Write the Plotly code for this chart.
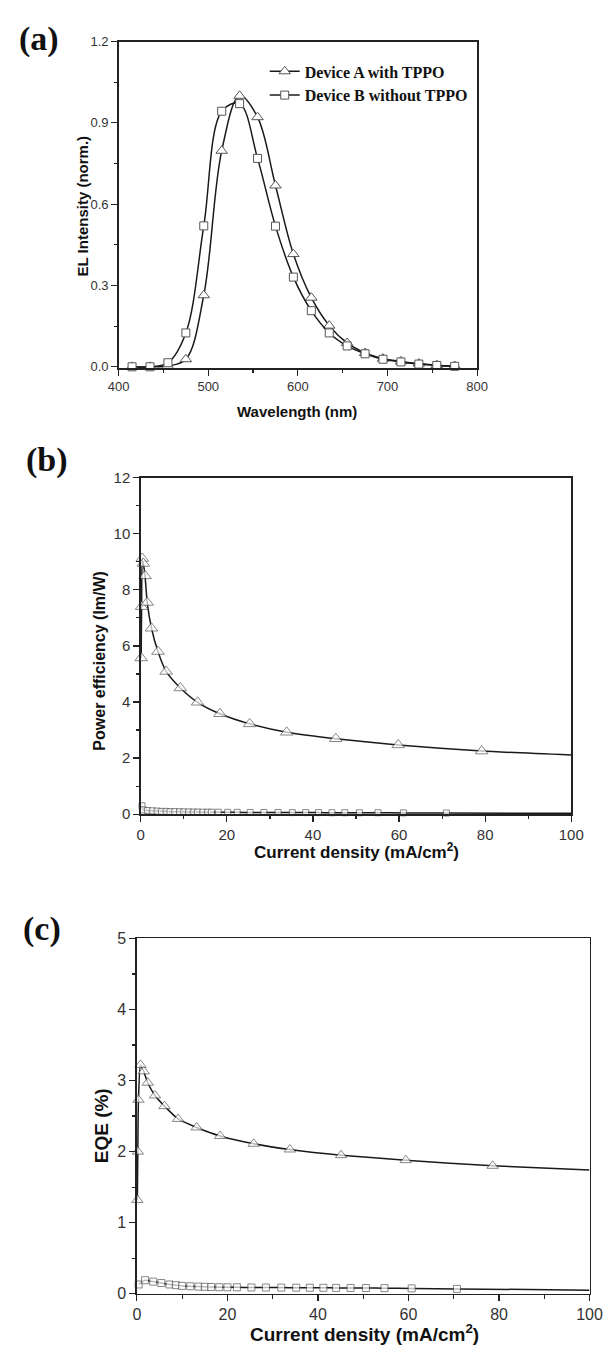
import plotly.graph_objects as go

# ---------------- data ----------------
# (a) EL spectra
wavelength = [415, 435, 455, 475, 495, 515, 535, 555, 575, 595, 615, 635, 655, 675, 695, 715, 735, 755, 775]
el_A = [0.0, 0.0, 0.003, 0.028, 0.264, 0.797, 1.0, 0.921, 0.669, 0.416, 0.255, 0.152, 0.088, 0.051, 0.030, 0.020, 0.012, 0.006, 0.003]
el_B = [0.0, 0.0, 0.015, 0.125, 0.520, 0.943, 0.971, 0.769, 0.519, 0.331, 0.207, 0.125, 0.077, 0.048, 0.028, 0.018, 0.010, 0.005, 0.002]

# (b) power efficiency vs current density
pe_x_A = [0.1, 0.2, 0.35, 0.6, 1.0, 1.5, 2.5, 4.0, 5.9, 9.2, 13.2, 18.4, 25.3, 33.9, 45.3, 59.8, 79.2, 100]
pe_A = [5.57, 7.4, 9.12, 8.94, 8.5, 7.55, 6.63, 5.8, 5.09, 4.5, 3.99, 3.58, 3.22, 2.92, 2.69, 2.47, 2.25, 2.11]
pe_x_B = [0.3, 0.6, 1.6, 2.7, 3.8, 4.8, 5.9, 6.8, 7.9, 9.0, 10.0, 11.1, 12.2, 13.2, 14.4, 15.5, 16.4,
          18.0, 20.2, 22.4, 25.4, 28.6, 31.9, 35.2, 38.3, 41.3, 44.4, 47.4, 50.8, 55.1, 61.0, 71.0, 100]
pe_B = [0.30, 0.15, 0.13, 0.12, 0.11, 0.10, 0.10, 0.09, 0.09, 0.085, 0.08, 0.08, 0.075, 0.075, 0.07, 0.07, 0.07,
        0.07, 0.065, 0.065, 0.06, 0.06, 0.06, 0.055, 0.055, 0.055, 0.05, 0.05, 0.05, 0.05, 0.045, 0.04, 0.03]

# (c) EQE vs current density
eqe_x_A = [0.1, 0.2, 0.35, 0.8, 1.5, 2.4, 4.0, 6.1, 9.1, 13.2, 18.4, 25.8, 33.8, 45.1, 59.4, 78.6, 100]
eqe_A = [1.32, 2.0, 2.73, 3.22, 3.13, 2.97, 2.79, 2.64, 2.46, 2.34, 2.22, 2.11, 2.03, 1.95, 1.88, 1.80, 1.74]
eqe_x_B = [0.4, 1.8, 3.6, 5.4, 7.2, 8.6, 10.0, 11.8, 13.6, 15.0, 16.4, 18.2, 20.0, 22.1, 25.3, 28.5,
           31.9, 35.2, 38.2, 41.2, 44.0, 47.2, 50.6, 54.7, 60.7, 70.7, 100]
eqe_B = [0.13, 0.19, 0.17, 0.15, 0.13, 0.12, 0.11, 0.105, 0.10, 0.097, 0.095, 0.092, 0.09, 0.09, 0.088, 0.087,
         0.086, 0.085, 0.084, 0.083, 0.082, 0.081, 0.08, 0.078, 0.075, 0.068, 0.05]

legend_names = ["Device A with TPPO", "Device B without TPPO"]
panel_labels = ["(a)", "(b)", "(c)"]

# ---------------- figure ----------------
W, H = 616, 1355
LINE = "#1a1a1a"
MK = "#555555"
SANS = "Liberation Sans, Arial, sans-serif"
SERIF = "Liberation Serif, Times New Roman, serif"


def sizes(n, s, last_hidden):
    arr = [s] * n
    if last_hidden:
        arr[-1] = 0
    return arr


fig = go.Figure()

# panel a
fig.add_trace(go.Scatter(x=wavelength, y=el_A, mode="lines+markers", name=legend_names[0],
                         line=dict(color=LINE, width=1.5, shape="spline", smoothing=1.0),
                         marker=dict(symbol="triangle-up", size=10, color="white", line=dict(color=MK, width=1)),
                         cliponaxis=False, xaxis="x", yaxis="y"))
fig.add_trace(go.Scatter(x=wavelength, y=el_B, mode="lines+markers", name=legend_names[1],
                         line=dict(color=LINE, width=1.5, shape="spline", smoothing=1.0),
                         marker=dict(symbol="square", size=8, color="white", line=dict(color=MK, width=1)),
                         cliponaxis=False, xaxis="x", yaxis="y"))

# panel b
fig.add_trace(go.Scatter(x=pe_x_B, y=pe_B, mode="lines+markers", showlegend=False,
                         line=dict(color=LINE, width=1.5, shape="spline", smoothing=0.6),
                         marker=dict(symbol="square", size=sizes(len(pe_B), 6, True), color="white",
                                     line=dict(color=MK, width=1)),
                         cliponaxis=False, xaxis="x2", yaxis="y2"))
fig.add_trace(go.Scatter(x=pe_x_A, y=pe_A, mode="lines+markers", showlegend=False,
                         line=dict(color=LINE, width=1.5, shape="spline", smoothing=0.6),
                         marker=dict(symbol="triangle-up", size=sizes(len(pe_A), 11, True), color="white",
                                     line=dict(color=MK, width=1)),
                         cliponaxis=False, xaxis="x2", yaxis="y2"))

# panel c
fig.add_trace(go.Scatter(x=eqe_x_B, y=eqe_B, mode="lines+markers", showlegend=False,
                         line=dict(color=LINE, width=1.5, shape="spline", smoothing=0.6),
                         marker=dict(symbol="square", size=sizes(len(eqe_B), 7, True), color="white",
                                     line=dict(color=MK, width=1)),
                         cliponaxis=False, xaxis="x3", yaxis="y3"))
fig.add_trace(go.Scatter(x=eqe_x_A, y=eqe_A, mode="lines+markers", showlegend=False,
                         line=dict(color=LINE, width=1.5, shape="spline", smoothing=0.6),
                         marker=dict(symbol="triangle-up", size=sizes(len(eqe_A), 10, True), color="white",
                                     line=dict(color=MK, width=1)),
                         cliponaxis=False, xaxis="x3", yaxis="y3"))


def px_x(p):
    return p / W


def px_y(p):
    return 1 - p / H


def axis(domain, rng, dtick, minor, fsize, anchor, fmt=None):
    d = dict(domain=domain, range=rng, dtick=dtick, tick0=0 if rng[0] < 100 else 400,
             showgrid=False, zeroline=False, showline=True, linecolor="#222", linewidth=1.5,
             mirror=True, ticks="outside", ticklen=6, tickwidth=1.2, tickcolor="#222",
             tickfont=dict(family=SANS, size=fsize, color="#333"), anchor=anchor,
             minor=dict(ticks="outside", ticklen=3.5, tickwidth=1.2, tickcolor="#222", dtick=minor, showgrid=False))
    if fmt:
        d["tickformat"] = fmt
    return d


fig.update_layout(
    width=W, height=H, margin=dict(l=0, r=0, t=0, b=0),
    paper_bgcolor="white", plot_bgcolor="white",
    xaxis=axis([px_x(112), px_x(485)], [400, 800], 100, 50, 13, "y"),
    yaxis=axis([px_y(364), px_y(33)], [-0.005, 1.2], 0.3, 0.15, 13, "x", ".1f"),
    xaxis2=axis([px_x(135), px_x(583)], [0, 100], 20, 10, 15, "y2"),
    yaxis2=axis([px_y(816), px_y(475)], [0, 12], 2, 1, 15, "x2"),
    xaxis3=axis([px_x(131), px_x(602)], [0, 100], 20, 10, 16, "y3"),
    yaxis3=axis([px_y(1302), px_y(942)], [0, 5], 1, 0.5, 16, "x3"),
    legend=dict(x=px_x(264), y=px_y(46), xanchor="left", yanchor="top", bgcolor="rgba(0,0,0,0)",
                font=dict(family=SERIF, size=16, color="#111", weight="bold"), itemwidth=30),
    showlegend=True,
)

annos = []
# panel labels
for lab, (x, y) in zip(panel_labels, [(29, 30), (37, 457), (32, 932)]):
    annos.append(dict(text=lab, x=px_x(x), y=px_y(y), xref="paper", yref="paper", showarrow=False,
                      xanchor="center", yanchor="middle",
                      font=dict(family=SERIF, size=34, color="#111", weight="bold")))

titles = [
    ("Wavelength (nm)", 298, 408, 0, 15),
    ("EL Intensity (norm.)", 74, 200, -90, 15),
    ("Current density (mA/cm<sup>2</sup>)", 359, 853, 0, 17),
    ("Power efficiency (lm/W)", 92, 660, -90, 16),
    ("Current density (mA/cm<sup>2</sup>)", 368, 1342, 0, 19),
    ("EQE (%)", 95, 1132, -90, 19),
]
for t, x, y, ang, fs in titles:
    annos.append(dict(text=t, x=px_x(x), y=px_y(y), xref="paper", yref="paper",
                      showarrow=False, xanchor="center", yanchor="middle", textangle=ang,
                      font=dict(family=SANS, size=fs, color="#111", weight="bold")))

fig.update_layout(annotations=annos)

fig.write_html("out.html", config={"displayModeBar": False, "staticPlot": True},
               post_script="document.body.style.margin='0';document.body.style.padding='0';"
                           "document.body.style.overflow='hidden';")
